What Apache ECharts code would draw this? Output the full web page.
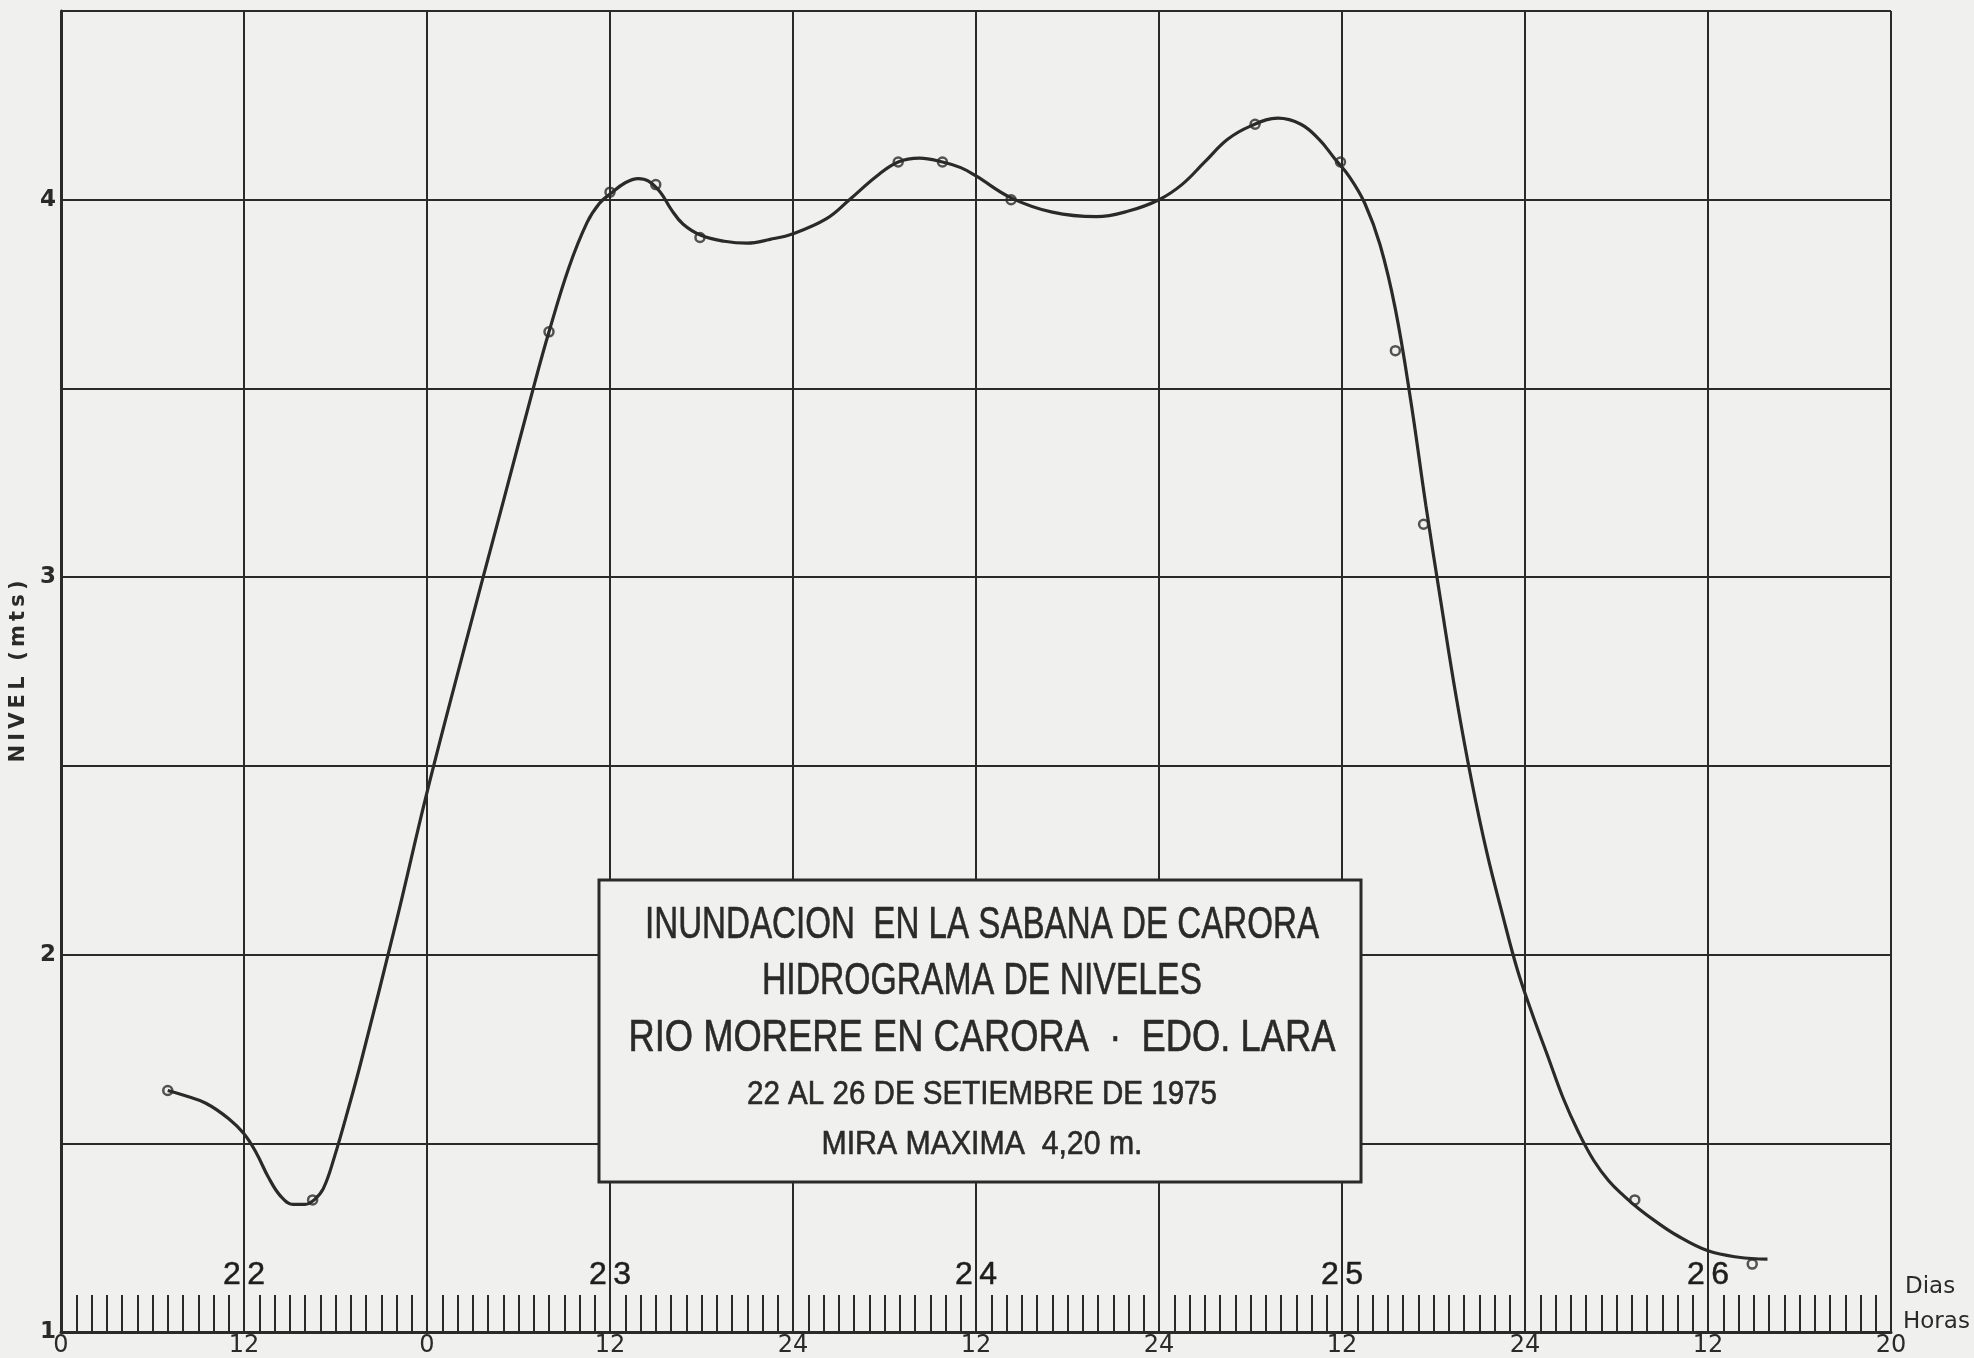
<!DOCTYPE html>
<html>
<head>
<meta charset="utf-8">
<script src="https://cdn.jsdelivr.net/npm/echarts@6/dist/echarts.min.js"></script>
<style>
html,body{margin:0;padding:0;background:#f0f0ee;}
#c{width:1974px;height:1358px;}
</style>
</head>
<body>
<div id="c"></div>
<script>
// ---- data ----
// observed gauge readings (hours since 22 Sept 00:00, level in m)
const obsHours  = [7.0, 16.5, 32.0, 36.0, 39.0, 41.9, 54.9, 57.8, 62.3, 78.3, 83.9, 87.5, 89.35, 103.2, 110.9];
const obsLevels = [1.64, 1.35, 3.65, 4.02, 4.04, 3.90, 4.10, 4.10, 4.00, 4.20, 4.10, 3.60, 3.14, 1.35, 1.18];

// hand-drawn hydrograph curve
const curveHours  = [7.0, 8.0, 9.5, 11.0, 12.0, 12.8, 13.6, 14.4, 15.2, 16.0, 16.6, 17.2, 17.9, 18.9, 19.7,
  22.0, 24.0, 26.5, 29.0, 31.1, 32.0, 33.3, 34.5, 35.3, 36.0, 37.0, 37.85, 38.5, 39.3, 40.0, 40.8, 42.0,
  43.5, 45.0, 46.5, 48.0, 50.2, 51.7, 53.5, 54.9, 56.3, 57.8, 59.0, 60.0, 62.3, 65.0, 67.9, 70.0,
  72.0, 73.5, 75.0, 76.5, 78.0, 79.8, 81.3, 82.5, 83.5, 84.5, 85.5, 86.5, 87.5, 88.5, 89.5, 90.5, 91.5,
  92.5, 93.5, 94.5, 95.5, 96.5, 97.5, 98.5, 99.5, 100.5, 101.5, 102.5, 103.5, 104.5, 106.0, 108.0, 110.0, 111.9];
const curveLevels = [1.64, 1.628, 1.606, 1.565, 1.525, 1.475, 1.41, 1.36, 1.338, 1.338, 1.35, 1.38, 1.46, 1.60, 1.72,
  2.09, 2.43, 2.82, 3.20, 3.52, 3.65, 3.82, 3.94, 3.99, 4.015, 4.045, 4.056, 4.05, 4.02, 3.975, 3.935, 3.905,
  3.89, 3.885, 3.895, 3.91, 3.95, 4.00, 4.063, 4.10, 4.11, 4.10, 4.085, 4.063, 4.005, 3.967, 3.955, 3.97,
  4.00, 4.04, 4.10, 4.16, 4.195, 4.216, 4.20, 4.16, 4.11, 4.06, 3.99, 3.88, 3.71, 3.47, 3.19, 2.93, 2.68,
  2.46, 2.27, 2.11, 1.96, 1.84, 1.73, 1.62, 1.53, 1.455, 1.40, 1.36, 1.325, 1.295, 1.255, 1.215, 1.198, 1.193];

const hourTickLabels = ['0', '12', '0', '12', '24', '12', '24', '12', '24', '12', '20'];
const dayLabels = ['22', '23', '24', '25', '26'];
const dayHours  = [12, 36, 60, 84, 108];

const titleLines = [
  'INUNDACION  EN LA SABANA DE CARORA',
  'HIDROGRAMA DE NIVELES',
  'RIO MORERE EN CARORA  \u00B7  EDO. LARA',
  '22 AL 26 DE SETIEMBRE DE 1975',
  'MIRA MAXIMA  4,20 m.'
];
const axisNameY = 'NIVEL (mts)';
const axisNameDays = 'Dias';
const axisNameHours = 'Horas';

// ---- styling / layout ----
const BG = '#f0f0ee';
const INK = '#2a2a2a';
const titleLayout = [
  {y: 926, w: 674, fs: 44},
  {y: 982, w: 440, fs: 44},
  {y: 1039, w: 707, fs: 44},
  {y: 1095, w: 470, fs: 33},
  {y: 1145, w: 321, fs: 33}
];
const mctx = document.createElement('canvas').getContext('2d');
function fitScale(text, fs, target) {
  mctx.font = fs + 'px "Liberation Sans"';
  return target / mctx.measureText(text).width;
}

const titleTexts = titleLines.map((t, i) => ({
  type: 'text',
  x: 982, y: titleLayout[i].y,
  scaleX: fitScale(t, titleLayout[i].fs, titleLayout[i].w),
  z: 101,
  style: {
    text: t, fill: INK,
    font: titleLayout[i].fs + 'px "Liberation Sans"',
    fontSize: titleLayout[i].fs, fontFamily: 'Liberation Sans',
    align: 'center', verticalAlign: 'middle',
    textAlign: 'center', textVerticalAlign: 'middle',
    stroke: INK, lineWidth: 0.6
  }
}));

const chart = echarts.init(document.getElementById('c'), null, {renderer: 'canvas'});
const option = {
  backgroundColor: BG,
  animation: false,
  grid: {left: 61, right: 83, top: 11, bottom: 24, containLabel: false},
  xAxis: {
    type: 'value', min: 0, max: 120, interval: 12,
    axisLine: {show: true, onZero: false, lineStyle: {color: INK, width: 3}},
    axisTick: {show: false, inside: true},
    minorTick: {show: true, splitNumber: 12, length: 37, lineStyle: {color: INK, width: 2}},
    splitLine: {show: true, lineStyle: {color: INK, width: 2}},
    axisLabel: {
      show: true, margin: 2, color: INK, fontSize: 24, fontFamily: 'DejaVu Sans',
      formatter: v => hourTickLabels[Math.round(v / 12)],
      showMinLabel: true, showMaxLabel: true, hideOverlap: false
    }
  },
  yAxis: {
    type: 'value', min: 1, max: 4.5, interval: 0.5,
    name: axisNameY.split('').join('\u2009'),
    nameLocation: 'middle', nameGap: 30, nameRotate: 90,
    nameTextStyle: {color: INK, fontSize: 21, fontWeight: 'bold', fontFamily: 'DejaVu Sans'},
    axisLine: {show: true, onZero: false, lineStyle: {color: INK, width: 3}},
    axisTick: {show: false},
    splitLine: {show: true, lineStyle: {color: INK, width: 2}},
    axisLabel: {
      show: true, margin: 5, color: INK, fontSize: 23, fontWeight: 'bold', fontFamily: 'DejaVu Sans',
      formatter: v => (Number.isInteger(v) ? String(v) : '')
    }
  },
  series: [
    {
      type: 'line', name: 'curve', silent: true,
      data: curveHours.map((h, i) => [h, curveLevels[i]]),
      smooth: 0.4, showSymbol: false, symbol: 'none',
      lineStyle: {color: INK, width: 3.2}, z: 3
    },
    {
      type: 'scatter', name: 'obs', silent: true,
      data: obsHours.map((h, i) => [h, obsLevels[i]]),
      symbol: 'circle', symbolSize: 9,
      itemStyle: {color: 'rgba(0,0,0,0)', borderColor: INK, borderWidth: 2.5},
      z: 4
    },
    {
      type: 'scatter', name: 'days', silent: true,
      data: dayHours.map((h, i) => ({value: [h, 1.15], name: dayLabels[i]})),
      symbolSize: 1, itemStyle: {color: 'rgba(0,0,0,0)'},
      label: {
        show: true, position: 'inside', color: '#1e1e1e', opacity: 1,
        fontSize: 32, fontFamily: '"Liberation Sans Narrow", "Liberation Sans", sans-serif',
        textBorderColor: '#1e1e1e', textBorderWidth: 0.5,
        formatter: p => p.name.split('').join('\u2009')
      },
      z: 5
    }
  ],
  graphic: [
    {
      type: 'rect', z: 100,
      shape: {x: 599, y: 880, width: 762, height: 302},
      style: {fill: BG, stroke: INK, lineWidth: 3}
    },
    ...titleTexts,
    {
      type: 'text', x: 1905, y: 1287, z: 101,
      style: {text: axisNameDays, fill: INK, fontSize: 23, fontFamily: 'DejaVu Sans',
        align: 'left', verticalAlign: 'middle', textAlign: 'left', textVerticalAlign: 'middle'}
    },
    {
      type: 'text', x: 1903, y: 1322, z: 101,
      style: {text: axisNameHours, fill: INK, fontSize: 23, fontFamily: 'DejaVu Sans',
        align: 'left', verticalAlign: 'middle', textAlign: 'left', textVerticalAlign: 'middle'}
    }
  ]
};
chart.setOption(option);
</script>
</body>
</html>
